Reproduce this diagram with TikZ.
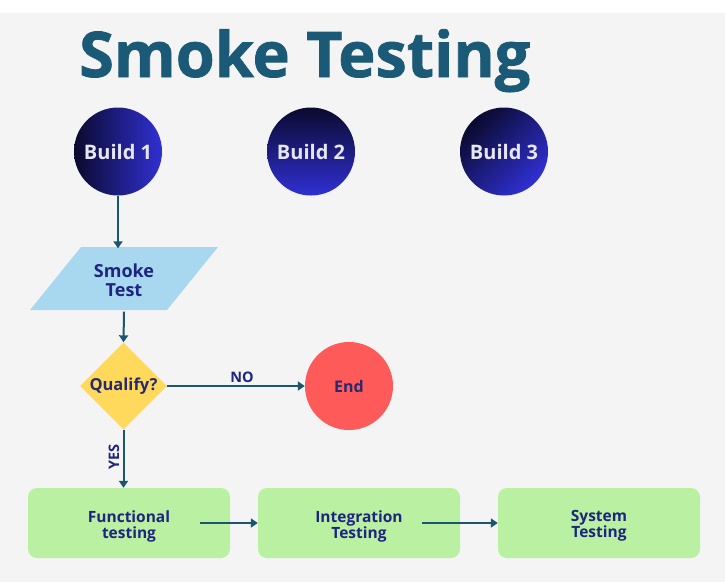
\documentclass[tikz,border=0pt]{standalone}
\usepackage{fontspec}
\setmainfont{Open Sans}
\newfontfamily\titlefont{Open Sans}[BoldFeatures={FakeBold=1.2}]
\usetikzlibrary{shapes.geometric,arrows.meta}
\definecolor{bgray}{HTML}{F4F4F4}
\definecolor{titlec}{HTML}{1B5A76}
\definecolor{navy}{HTML}{1E2480}
\definecolor{darkn}{HTML}{282A6E}
\definecolor{arrowc}{HTML}{1B5670}
\definecolor{pblue}{HTML}{A7D8F0}
\definecolor{dyellow}{HTML}{FFD95C}
\definecolor{endred}{HTML}{FF5A5A}
\definecolor{bgreen}{HTML}{B9F0A2}
\definecolor{cdark}{HTML}{0A0A2E}
\definecolor{cblue}{HTML}{3030D4}
\definecolor{ctext}{HTML}{E6E6F0}
\tikzset{
  buildc/.style={circle, minimum size=88pt, inner sep=0pt, text=ctext,
    font={\bfseries\fontsize{20}{22}\selectfont}},
  flowarrow/.style={draw=arrowc, line width=2pt, -{Triangle[length=7pt,width=9pt]}},
  greenbox/.style={rectangle, rounded corners=9pt, fill=bgreen, minimum width=202pt,
    minimum height=70pt, inner sep=0pt},
  boxtext/.style={inner sep=0pt, align=center, text=navy,
    font={\bfseries\fontsize{15.5}{16}\selectfont}},
  lbl/.style={text=navy, font={\bfseries\fontsize{14.5}{16}\selectfont}, inner sep=0pt}
}
\begin{document}
\begin{tikzpicture}[x=1pt,y=-1pt]
\useasboundingbox (0,0) rectangle (725,582);
\fill[white] (0,0) rectangle (725,582);
\fill[bgray] (0,13) rectangle (725,582);
\node[anchor=base west, inner sep=0pt, text=titlec, font={\titlefont\bfseries\fontsize{63}{70}\selectfont}] (title) at (79,77) {Smoke Testing};
% build circles
\node[buildc, left color=cdark, right color=cblue] (b1) at (118,151.5) {Build 1};
\node[buildc, top color=cdark, bottom color=cblue] (b2) at (311,151.5) {Build 2};
\node[buildc, top color=cdark, bottom color=cblue, shading angle=45] (b3) at (504,151.5) {Build 3};
% smoke test parallelogram
\fill[pblue] (81,247) -- (218,247) -- (167,310) -- (30,310) -- cycle;
\node[minimum width=137pt, minimum height=63pt, inner sep=0pt, align=center, text=navy,
  font={\bfseries\fontsize{18}{19}\selectfont}] (smoke) at (124,280) {Smoke\\Test};
% decision
\node[diamond, aspect=1, minimum size=87pt, inner sep=0pt, fill=dyellow, text=darkn,
  font={\bfseries\fontsize{16.5}{18}\selectfont}] (qual) at (123.5,386) {Qualify?};
\node[circle, minimum size=88pt, inner sep=0pt, fill=endred, text=darkn,
  font={\bfseries\fontsize{16}{18}\selectfont}] (end) at (349,386) {End};
% boxes
\node[greenbox] (func) at (129,523) {};
\node[greenbox] (integ) at (359,523) {};
\node[greenbox] (sys) at (599,523) {};
\node[boxtext] (functxt) at (129,526) {Functional\\testing};
\node[boxtext] (integtxt) at (359,526) {Integration\\Testing};
\node[boxtext] (systxt) at (599,526) {System\\Testing};
% arrows
\draw[flowarrow] (b1.south) -- (b1.south |- smoke.north);
\draw[flowarrow] (smoke.south) -- (qual.north);
\draw[flowarrow] (qual.east) -- (end.west);
\node[lbl] (nolbl) at (242,377) {NO};
\draw[flowarrow] (qual.south) -- (qual.south |- func.north);
\node[lbl, rotate=90] (yeslbl) at (114,457) {YES};
\draw[flowarrow] ([xshift=-30pt]func.east) -- (integ.west);
\draw[flowarrow] ([xshift=-38pt]integ.east) -- (sys.west);
\end{tikzpicture}
\end{document}
